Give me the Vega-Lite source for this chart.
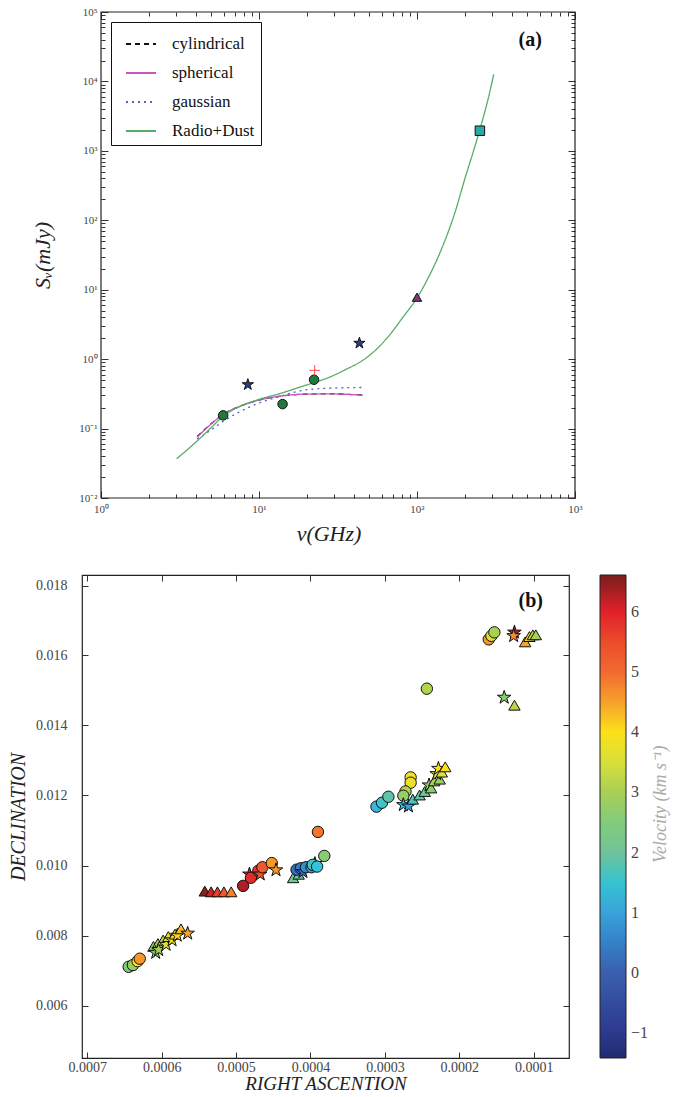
{
  "$schema": "https://vega.github.io/schema/vega-lite/v6.json",
  "padding": {"left": 7, "top": 6, "right": 0, "bottom": 0},
  "config": {
    "font": "Liberation Serif",
    "view": {"stroke": "#222", "strokeWidth": 1.2},
    "axis": {"grid": false, "domain": false, "tickColor": "#333", "labelColor": "#444", "labelFont": "Liberation Serif", "titleFont": "Liberation Serif", "titleFontStyle": "italic", "titleFontWeight": "normal", "titleColor": "#222", "labelOverlap": false, "labelFlush": false}
  },
  "datasets": {
    "models": [
      {"model": "cylindrical", "nu": 4.06, "S": 0.077},
      {"model": "cylindrical", "nu": 5.06, "S": 0.121},
      {"model": "cylindrical", "nu": 5.93, "S": 0.160},
      {"model": "cylindrical", "nu": 7.38, "S": 0.205},
      {"model": "cylindrical", "nu": 10.0, "S": 0.257},
      {"model": "cylindrical", "nu": 13.87, "S": 0.294},
      {"model": "cylindrical", "nu": 19.0, "S": 0.312},
      {"model": "cylindrical", "nu": 27.8, "S": 0.316},
      {"model": "cylindrical", "nu": 45.5, "S": 0.304},
      {"model": "spherical", "nu": 4.06, "S": 0.0752},
      {"model": "spherical", "nu": 5.06, "S": 0.120},
      {"model": "spherical", "nu": 5.93, "S": 0.160},
      {"model": "spherical", "nu": 7.38, "S": 0.204},
      {"model": "spherical", "nu": 10.0, "S": 0.257},
      {"model": "spherical", "nu": 13.87, "S": 0.295},
      {"model": "spherical", "nu": 19.0, "S": 0.313},
      {"model": "spherical", "nu": 27.8, "S": 0.316},
      {"model": "spherical", "nu": 45.5, "S": 0.302},
      {"model": "gaussian", "nu": 4.06, "S": 0.0708},
      {"model": "gaussian", "nu": 5.06, "S": 0.0982},
      {"model": "gaussian", "nu": 5.93, "S": 0.127},
      {"model": "gaussian", "nu": 7.38, "S": 0.170},
      {"model": "gaussian", "nu": 10.0, "S": 0.233},
      {"model": "gaussian", "nu": 13.87, "S": 0.295},
      {"model": "gaussian", "nu": 19.0, "S": 0.356},
      {"model": "gaussian", "nu": 27.8, "S": 0.381},
      {"model": "gaussian", "nu": 45.5, "S": 0.391},
      {"model": "Radio+Dust", "nu": 3.01, "S": 0.0369},
      {"model": "Radio+Dust", "nu": 3.47, "S": 0.0482},
      {"model": "Radio+Dust", "nu": 4.19, "S": 0.0710},
      {"model": "Radio+Dust", "nu": 5.06, "S": 0.1067},
      {"model": "Radio+Dust", "nu": 5.93, "S": 0.151},
      {"model": "Radio+Dust", "nu": 7.38, "S": 0.203},
      {"model": "Radio+Dust", "nu": 10.0, "S": 0.263},
      {"model": "Radio+Dust", "nu": 13.87, "S": 0.324},
      {"model": "Radio+Dust", "nu": 19.0, "S": 0.409},
      {"model": "Radio+Dust", "nu": 22.3, "S": 0.459},
      {"model": "Radio+Dust", "nu": 27.8, "S": 0.548},
      {"model": "Radio+Dust", "nu": 35.7, "S": 0.716},
      {"model": "Radio+Dust", "nu": 46.0, "S": 0.982},
      {"model": "Radio+Dust", "nu": 55.6, "S": 1.40},
      {"model": "Radio+Dust", "nu": 67.1, "S": 2.23},
      {"model": "Radio+Dust", "nu": 81.3, "S": 3.99},
      {"model": "Radio+Dust", "nu": 100.0, "S": 7.59},
      {"model": "Radio+Dust", "nu": 118.6, "S": 15.3},
      {"model": "Radio+Dust", "nu": 143.2, "S": 38.9},
      {"model": "Radio+Dust", "nu": 173.0, "S": 125},
      {"model": "Radio+Dust", "nu": 202.8, "S": 427},
      {"model": "Radio+Dust", "nu": 230.0, "S": 1070},
      {"model": "Radio+Dust", "nu": 249.5, "S": 1995},
      {"model": "Radio+Dust", "nu": 269.0, "S": 3715},
      {"model": "Radio+Dust", "nu": 287.0, "S": 6607},
      {"model": "Radio+Dust", "nu": 305.5, "S": 12590}
    ],
    "obs": [
      {"set": "A", "nu": 5.93, "S": 0.155},
      {"set": "A", "nu": 14.1, "S": 0.225},
      {"set": "A", "nu": 22.3, "S": 0.505},
      {"set": "B", "nu": 8.5, "S": 0.43},
      {"set": "B", "nu": 43.2, "S": 1.7},
      {"set": "C", "nu": 100, "S": 7.8},
      {"set": "D", "nu": 250, "S": 1950},
      {"set": "E", "nu": 22.5, "S": 0.69}
    ],
    "cores": [
      {"type": "circle", "ra": 0.0006443, "dec": 0.007105, "v": 2.5},
      {"type": "circle", "ra": 0.0006386, "dec": 0.007155, "v": 2.8},
      {"type": "circle", "ra": 0.0006323, "dec": 0.007266, "v": 4.0},
      {"type": "circle", "ra": 0.0006294, "dec": 0.007337, "v": 4.6},
      {"type": "triangle", "ra": 0.000611, "dec": 0.00769, "v": 2.6},
      {"type": "triangle", "ra": 0.000605, "dec": 0.00777, "v": 2.9},
      {"type": "star", "ra": 0.000608, "dec": 0.00751, "v": 2.5},
      {"type": "star", "ra": 0.000604, "dec": 0.00759, "v": 3.0},
      {"type": "triangle", "ra": 0.000598, "dec": 0.00787, "v": 3.3},
      {"type": "star", "ra": 0.000594, "dec": 0.00774, "v": 3.5},
      {"type": "triangle", "ra": 0.000591, "dec": 0.00797, "v": 3.6},
      {"type": "star", "ra": 0.000586, "dec": 0.00787, "v": 3.9},
      {"type": "triangle", "ra": 0.000582, "dec": 0.00804, "v": 4.0},
      {"type": "star", "ra": 0.000579, "dec": 0.00800, "v": 4.1},
      {"type": "triangle", "ra": 0.000574, "dec": 0.00819, "v": 4.3},
      {"type": "star", "ra": 0.000565, "dec": 0.00806, "v": 4.5},
      {"type": "triangle", "ra": 0.000542, "dec": 0.009268, "v": 6.5},
      {"type": "triangle", "ra": 0.0005335, "dec": 0.009248, "v": 6.1},
      {"type": "triangle", "ra": 0.000525, "dec": 0.009248, "v": 5.7},
      {"type": "triangle", "ra": 0.0005163, "dec": 0.009248, "v": 5.3},
      {"type": "triangle", "ra": 0.0005065, "dec": 0.009248, "v": 4.8},
      {"type": "circle", "ra": 0.0004905, "dec": 0.009418, "v": 6.3},
      {"type": "star", "ra": 0.000482, "dec": 0.00975, "v": 6.0},
      {"type": "circle", "ra": 0.00048, "dec": 0.00965, "v": 5.9},
      {"type": "circle", "ra": 0.00047, "dec": 0.00985, "v": 5.8},
      {"type": "star", "ra": 0.0004675, "dec": 0.00975, "v": 5.4},
      {"type": "circle", "ra": 0.0004646, "dec": 0.00995, "v": 5.3},
      {"type": "circle", "ra": 0.000452, "dec": 0.01007, "v": 4.6},
      {"type": "star", "ra": 0.0004463, "dec": 0.00987, "v": 4.6},
      {"type": "triangle", "ra": 0.0004233, "dec": 0.00965, "v": 2.2},
      {"type": "triangle", "ra": 0.0004158, "dec": 0.00975, "v": 2.0},
      {"type": "circle", "ra": 0.0004187, "dec": 0.00988, "v": 0.2},
      {"type": "circle", "ra": 0.000413, "dec": 0.00992, "v": 0.4},
      {"type": "star", "ra": 0.0004101, "dec": 0.00982, "v": 0.1},
      {"type": "circle", "ra": 0.000406, "dec": 0.00995, "v": 0.7},
      {"type": "circle", "ra": 0.0003986, "dec": 0.00995, "v": 0.9},
      {"type": "star", "ra": 0.000394, "dec": 0.01005, "v": 0.3},
      {"type": "circle", "ra": 0.000397, "dec": 0.01002, "v": 1.7},
      {"type": "circle", "ra": 0.0003911, "dec": 0.00997, "v": 1.4},
      {"type": "circle", "ra": 0.0003814, "dec": 0.010274, "v": 2.6},
      {"type": "circle", "ra": 0.00039, "dec": 0.01096, "v": 4.9},
      {"type": "circle", "ra": 0.0003113, "dec": 0.011682, "v": 1.2},
      {"type": "circle", "ra": 0.0003039, "dec": 0.011793, "v": 1.6},
      {"type": "circle", "ra": 0.0002953, "dec": 0.011964, "v": 1.9},
      {"type": "circle", "ra": 0.0002654, "dec": 0.012517, "v": 3.9},
      {"type": "circle", "ra": 0.0002654, "dec": 0.012366, "v": 3.8},
      {"type": "circle", "ra": 0.0002723, "dec": 0.012115, "v": 3.1},
      {"type": "circle", "ra": 0.0002752, "dec": 0.011994, "v": 2.8},
      {"type": "star", "ra": 0.0002752, "dec": 0.011733, "v": 1.3},
      {"type": "star", "ra": 0.0002683, "dec": 0.011693, "v": 1.0},
      {"type": "triangle", "ra": 0.0002625, "dec": 0.011894, "v": 1.7},
      {"type": "triangle", "ra": 0.0002534, "dec": 0.012014, "v": 1.9},
      {"type": "triangle", "ra": 0.0002465, "dec": 0.012115, "v": 2.2},
      {"type": "star", "ra": 0.0002407, "dec": 0.012296, "v": 2.7},
      {"type": "triangle", "ra": 0.0002379, "dec": 0.012215, "v": 2.6},
      {"type": "triangle", "ra": 0.0002338, "dec": 0.012417, "v": 3.0},
      {"type": "triangle", "ra": 0.0002264, "dec": 0.012467, "v": 2.8},
      {"type": "star", "ra": 0.0002304, "dec": 0.012618, "v": 3.5},
      {"type": "star", "ra": 0.0002281, "dec": 0.012769, "v": 4.0},
      {"type": "triangle", "ra": 0.0002235, "dec": 0.012668, "v": 3.6},
      {"type": "triangle", "ra": 0.0002189, "dec": 0.012819, "v": 4.0},
      {"type": "circle", "ra": 0.0002436, "dec": 0.015052, "v": 3.1},
      {"type": "circle", "ra": 0.0001604, "dec": 0.016461, "v": 4.6},
      {"type": "circle", "ra": 0.0001569, "dec": 0.016561, "v": 3.5},
      {"type": "circle", "ra": 0.0001529, "dec": 0.016662, "v": 3.0},
      {"type": "star", "ra": 0.0001259, "dec": 0.016662, "v": 6.3},
      {"type": "star", "ra": 0.000127, "dec": 0.016561, "v": 4.7},
      {"type": "triangle", "ra": 0.0001115, "dec": 0.01639, "v": 4.5},
      {"type": "triangle", "ra": 0.0001058, "dec": 0.016541, "v": 3.8},
      {"type": "triangle", "ra": 0.0001012, "dec": 0.016591, "v": 3.3},
      {"type": "triangle", "ra": 0.0000972, "dec": 0.016591, "v": 3.0},
      {"type": "star", "ra": 0.0001397, "dec": 0.014801, "v": 2.6},
      {"type": "triangle", "ra": 0.0001259, "dec": 0.01458, "v": 3.2}
    ]
  },
  "columns": 1,
  "align": "none",
  "spacing": {"row": 29, "column": 0},
  "resolve": {"scale": {"fill": "independent", "shape": "independent", "color": "independent", "x": "independent", "y": "independent"}},
  "concat": [
    {
      "width": 493,
      "height": 486,
      "view": {"stroke": null},
      "resolve": {"axis": {"x": "independent", "y": "independent"}},
      "layer": [
        {
          "data": {"values": [{"frame": "box"}]},
          "mark": {"type": "rect", "fillOpacity": 0, "stroke": "#222", "strokeWidth": 1.2},
          "encoding": {
            "x": {"datum": 1, "type": "quantitative",
              "axis": {"orient": "top", "labels": false, "title": null,
                "values": [1,2,3,4,5,6,7,8,9,10,20,30,40,50,60,70,80,90,100,200,300,400,500,600,700,800,900,1000],
                "tickSize": {"condition": {"test": "abs(log(datum.value)/LN10 - round(log(datum.value)/LN10)) < 0.001", "value": -7}, "value": -4}}},
            "x2": {"datum": 1000},
            "y": {"datum": 0.01, "type": "quantitative",
              "axis": {"orient": "right", "labels": false, "title": null,
                "values": [0.01,0.02,0.03,0.04,0.05,0.06,0.07,0.08,0.09,0.1,0.2,0.3,0.4,0.5,0.6,0.7,0.8,0.9,1,2,3,4,5,6,7,8,9,10,20,30,40,50,60,70,80,90,100,200,300,400,500,600,700,800,900,1000,2000,3000,4000,5000,6000,7000,8000,9000,10000,20000,30000,40000,50000,60000,70000,80000,90000,100000],
                "tickSize": {"condition": {"test": "abs(log(datum.value)/LN10 - round(log(datum.value)/LN10)) < 0.001", "value": -7}, "value": -4}}},
            "y2": {"datum": 100000}
          }
        },
        {
          "data": {"name": "models"},
          "mark": {"type": "line", "strokeWidth": 1.3, "interpolate": "monotone"},
          "encoding": {
            "x": {"field": "nu", "type": "quantitative", "scale": {"type": "log", "domain": [0.758, 1000], "nice": false},
              "axis": {"orient": "bottom", "title": "ν(GHz)", "titleFontSize": 22, "titlePadding": 6, "labelFontSize": 11, "labelPadding": 12,
                "values": [1,2,3,4,5,6,7,8,9,10,20,30,40,50,60,70,80,90,100,200,300,400,500,600,700,800,900,1000],
                "tickSize": {"condition": {"test": "abs(log(datum.value)/LN10 - round(log(datum.value)/LN10)) < 0.001", "value": -7}, "value": -4},
                "labelExpr": "abs(log(datum.value)/LN10 - round(log(datum.value)/LN10)) < 0.001 ? ['10⁰','10¹','10²','10³'][round(log(datum.value)/LN10)] : ''"}},
            "y": {"field": "S", "type": "quantitative", "scale": {"type": "log", "domain": [0.01, 100000], "nice": false},
              "axis": {"orient": "left", "title": "Sᵥ(mJy)", "offset": -19, "titleFontSize": 22, "titlePadding": 24, "labelFontSize": 11, "labelPadding": 11,
                "values": [0.01,0.02,0.03,0.04,0.05,0.06,0.07,0.08,0.09,0.1,0.2,0.3,0.4,0.5,0.6,0.7,0.8,0.9,1,2,3,4,5,6,7,8,9,10,20,30,40,50,60,70,80,90,100,200,300,400,500,600,700,800,900,1000,2000,3000,4000,5000,6000,7000,8000,9000,10000,20000,30000,40000,50000,60000,70000,80000,90000,100000],
                "tickSize": {"condition": {"test": "abs(log(datum.value)/LN10 - round(log(datum.value)/LN10)) < 0.001", "value": -7}, "value": -4},
                "labelExpr": "abs(log(datum.value)/LN10 - round(log(datum.value)/LN10)) < 0.001 ? ['10⁻²','10⁻¹','10⁰','10¹','10²','10³','10⁴','10⁵'][round(log(datum.value)/LN10)+2] : ''"}},
            "color": {"field": "model", "type": "nominal",
              "scale": {"domain": ["cylindrical", "spherical", "gaussian", "Radio+Dust"], "range": ["#111111", "#cc55bb", "#5560cc", "#55ad68"]},
              "legend": null},
            "strokeDash": {"field": "model", "type": "nominal",
              "scale": {"domain": ["cylindrical", "spherical", "gaussian", "Radio+Dust"], "range": [[5, 4], [1, 0], [2, 4], [1, 0]]},
              "legend": {"orient": "none", "legendX": 29, "legendY": 10, "title": null, "padding": 6, "symbolOffset": 8, "fillColor": "white", "strokeColor": "#111", "symbolType": "stroke", "symbolSize": 900, "symbolStrokeWidth": 2, "labelFontSize": 17, "labelFont": "Liberation Serif", "labelColor": "#111", "labelOffset": 15, "rowPadding": 5,
                "labelExpr": "datum.label + '\u2003\u2009'",
                "encode": {"symbols": {"update": {"stroke": {"signal": "datum.value === 'spherical' ? '#cc55bb' : datum.value === 'gaussian' ? '#5560cc' : datum.value === 'Radio+Dust' ? '#55ad68' : '#111111'"}}}}}}
          }
        },
        {
          "data": {"name": "obs"},
          "transform": [{"filter": "datum.set != 'E'"}],
          "mark": {"type": "point", "filled": true, "stroke": "#111", "strokeWidth": 1, "opacity": 1, "size": 90},
          "encoding": {
            "x": {"field": "nu", "type": "quantitative", "axis": null},
            "y": {"field": "S", "type": "quantitative", "axis": null},
            "fill": {"field": "set", "type": "nominal", "scale": {"domain": ["A", "B", "C", "D"], "range": ["#1f7a3c", "#2e3c8c", "#7a3a80", "#2aa9a5"]}, "legend": null},
            "shape": {"field": "set", "type": "nominal", "scale": {"domain": ["A", "B", "C", "D"], "range": ["circle", "M0,-1.25L0.281,-0.386L1.189,-0.386L0.454,0.148L0.735,1.011L0,0.478L-0.735,1.011L-0.454,0.148L-1.189,-0.386L-0.281,-0.386Z", "triangle-up", "square"]}, "legend": null}
          }
        },
        {
          "data": {"name": "obs"},
          "transform": [{"filter": "datum.set == 'E'"}],
          "mark": {"type": "point", "filled": false, "stroke": "#ff4b4b", "strokeWidth": 1, "opacity": 1, "size": 110, "shape": "M-1,0L1,0M0,-1L0,1"},
          "encoding": {
            "x": {"field": "nu", "type": "quantitative", "axis": null},
            "y": {"field": "S", "type": "quantitative", "axis": null}
          }
        },
        {
          "data": {"values": [{"label": "(a)"}]},
          "mark": {"type": "text", "fontSize": 20, "fontWeight": "bold", "font": "Liberation Serif", "color": "#111"},
          "encoding": {
            "x": {"datum": 520, "axis": null},
            "y": {"datum": 39000, "axis": null},
            "text": {"field": "label"}
          }
        }
      ]
    },
    {
      "width": 487,
      "height": 483,
      "resolve": {"axis": {"x": "independent", "y": "independent"}},
      "layer": [
        {
          "data": {"name": "cores"},
          "mark": {"type": "point", "filled": true, "stroke": "#111", "strokeWidth": 1, "opacity": 1, "size": 130},
          "encoding": {
            "x": {"field": "ra", "type": "quantitative", "scale": {"domain": [0.0000526, 0.000707], "reverse": true, "zero": false, "nice": false},
              "axis": {"orient": "bottom", "title": "RIGHT ASCENTION", "titleFontSize": 19, "titlePadding": 0, "labelFontSize": 14, "labelPadding": 8, "format": ".4f",
                "values": [0.0007, 0.0006, 0.0005, 0.0004, 0.0003, 0.0002, 0.0001], "tickSize": -6}},
            "y": {"field": "dec", "type": "quantitative", "scale": {"domain": [0.0045, 0.0183], "zero": false, "nice": false},
              "axis": {"orient": "left", "title": "DECLINATION", "titleFontSize": 20, "titlePadding": 7, "labelFontSize": 14, "labelPadding": 21, "format": ".3f",
                "values": [0.006, 0.008, 0.010, 0.012, 0.014, 0.016, 0.018], "tickSize": -6}},
            "fill": {"field": "v", "type": "quantitative",
              "scale": {"domain": [-1.42, -1, 0, 1, 1.3, 2, 3, 3.5, 4, 4.5, 5, 6, 6.62],
                "range": ["#1f2a6e", "#2c3a8e", "#3b5fae", "#3aa2da", "#3cc0e5", "#6fc39a", "#a9cf55", "#d8df3a", "#fbe11a", "#f7a22a", "#f26a30", "#e3202a", "#7b1c1c"]},
              "legend": {"orient": "right", "offset": 30, "gradientLength": 483, "gradientThickness": 26, "title": null,
                "values": [-1, 0, 1, 2, 3, 4, 5, 6], "labelFontSize": 16, "labelFont": "Liberation Serif", "labelColor": "#444", "labelOffset": 5, "labelOverlap": false, "gradientStrokeColor": "#222", "gradientStrokeWidth": 1,
                "labelExpr": "datum.value < 0 ? '−' + abs(datum.value) : datum.label"}},
            "shape": {"field": "type", "type": "nominal", "scale": {"domain": ["circle", "triangle", "star"], "range": ["circle", "triangle-up", "M0,-1.25L0.281,-0.386L1.189,-0.386L0.454,0.148L0.735,1.011L0,0.478L-0.735,1.011L-0.454,0.148L-1.189,-0.386L-0.281,-0.386Z"]}, "legend": null}
          }
        },
        {
          "data": {"values": [{"label": "(b)"}]},
          "mark": {"type": "text", "fontSize": 20, "fontWeight": "bold", "font": "Liberation Serif", "color": "#111"},
          "encoding": {
            "x": {"datum": 0.000104, "type": "quantitative",
              "axis": {"orient": "top", "labels": false, "title": null, "values": [0.0007, 0.0006, 0.0005, 0.0004, 0.0003, 0.0002, 0.0001], "tickSize": -6}},
            "y": {"datum": 0.01757, "type": "quantitative",
              "axis": {"orient": "right", "labels": false, "title": null, "values": [0.006, 0.008, 0.010, 0.012, 0.014, 0.016, 0.018], "tickSize": -6}},
            "text": {"field": "label"}
          }
        },
        {
          "data": {"values": [{"label": "Velocity (km s⁻¹)"}]},
          "mark": {"type": "text", "fontSize": 18, "fontStyle": "italic", "font": "Liberation Serif", "color": "#aaaaaa", "angle": 270, "align": "center", "baseline": "middle"},
          "encoding": {
            "x": {"datum": -0.000071, "type": "quantitative", "axis": null},
            "y": {"datum": 0.01175, "type": "quantitative", "axis": null},
            "text": {"field": "label"}
          }
        }
      ]
    }
  ]
}
